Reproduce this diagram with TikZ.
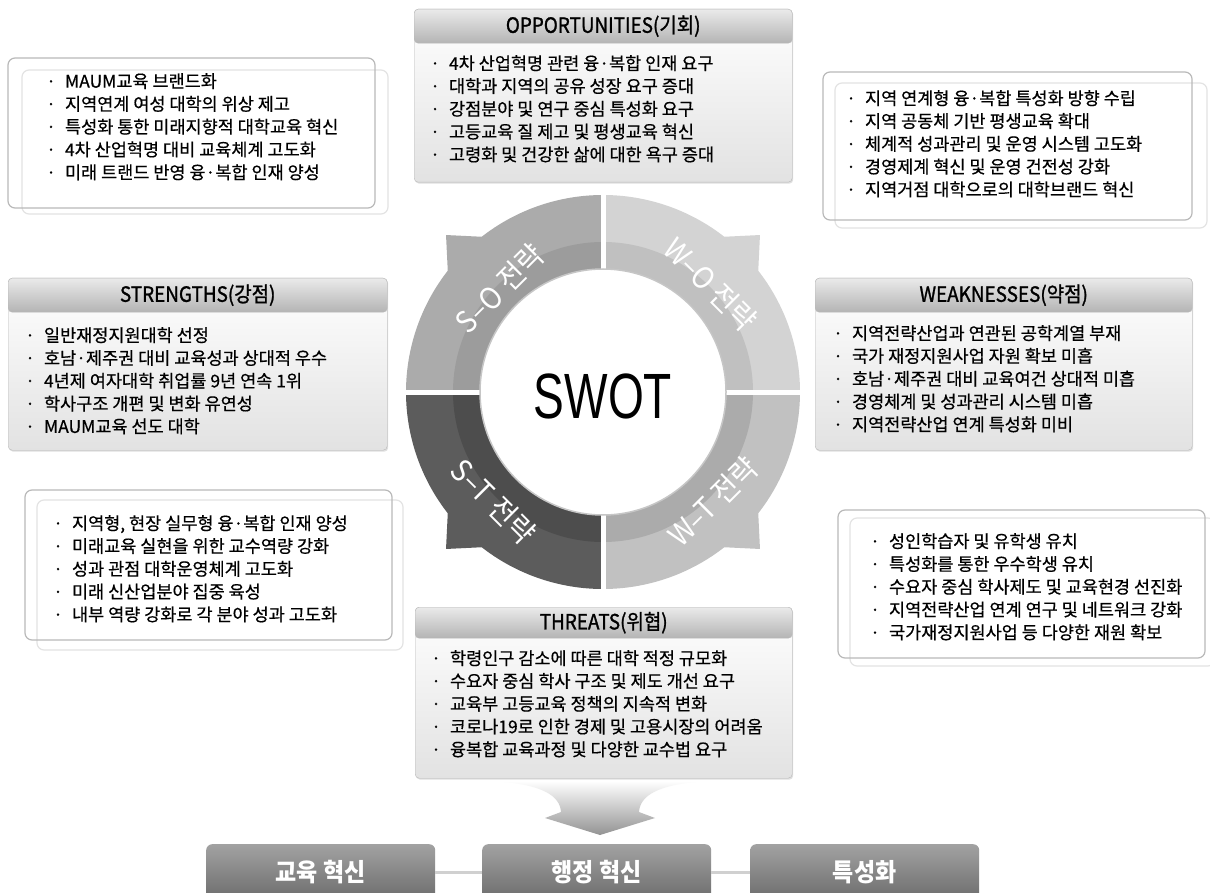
\documentclass[tikz,border=0pt]{standalone}
\usepackage{fontspec}
\setmainfont{Noto Sans CJK KR}[FakeBold=0.5]
\newfontfamily\headfont{Noto Sans CJK KR}[FakeStretch=0.9, FakeBold=1.2]
\newfontfamily\resfont{Noto Sans CJK KR}[FakeStretch=0.92]
\newfontfamily\swotfont{Liberation Sans}[FakeStretch=0.72]
\usetikzlibrary{positioning,calc,shadows}

\definecolor{boxline}{HTML}{B9B9B9}
\definecolor{ghostline}{HTML}{E3E3E3}
\definecolor{headtop}{HTML}{EAEAEA}
\definecolor{headbot}{HTML}{B4B4B4}
\definecolor{bodybot}{HTML}{E2E2E2}
\definecolor{soOuter}{HTML}{ABABAB}
\definecolor{soInner}{HTML}{9C9C9C}
\definecolor{woOuter}{HTML}{D3D3D3}
\definecolor{woInner}{HTML}{C0C0C0}
\definecolor{stOuter}{HTML}{5C5C5C}
\definecolor{stInner}{HTML}{4D4D4D}
\definecolor{wtOuter}{HTML}{C1C1C1}
\definecolor{wtInner}{HTML}{ABABAB}
\definecolor{restop}{HTML}{A2A2A2}
\definecolor{resbot}{HTML}{6C6C6C}
\definecolor{linkgray}{HTML}{D0D0D0}

\newcommand{\bul}{·\hspace{9pt}}

\tikzset{
  panel/.style={draw=boxline, rounded corners=4pt, inner sep=0pt, anchor=north west,
    top color=white, bottom color=bodybot,
    drop shadow={shadow xshift=1pt, shadow yshift=-1.5pt, opacity=0.25}},
  panelhead/.style={draw=boxline, rounded corners=4pt, inner sep=0pt, anchor=north,
    top color=headtop, bottom color=headbot, font=\headfont\fontsize{21}{24}\selectfont},
  itemlist/.style={anchor=north west, inner sep=0pt, align=left,
    font=\fontsize{17.5}{22.8}\selectfont},
  mainframe/.style={draw=boxline, line width=1.2pt, rounded corners=7pt},
  ghostframe/.style={draw=ghostline, line width=1.2pt, rounded corners=7pt},
  stratlabel/.style={text=white, inner sep=0pt, font=\resfont\fontsize{30}{32}\selectfont},
  resultbox/.style={anchor=north west, inner sep=0pt, rounded corners=6pt,
    top color=restop, bottom color=resbot, minimum width=229pt, minimum height=56pt,
    text=white, font=\resfont\bfseries\fontsize{25}{28}\selectfont},
  link/.style={draw=linkgray, line width=3pt}
}

% one quarter of the ring: start angle, outer colour, band colour
\newcommand{\ringquarter}[3]{%
  \fill[#2] ($(c)+(#1:123pt)$) -- ($(c)+(#1:197pt)$)
    arc[start angle=#1, end angle=#1+38, radius=197pt]
    -- ($(c)+(#1+45:222pt)$) -- ($(c)+(#1+52:197pt)$)
    arc[start angle=#1+52, end angle=#1+90, radius=197pt]
    -- ($(c)+(#1+90:123pt)$)
    arc[start angle=#1+90, end angle=#1, radius=123pt] -- cycle;
  \fill[#3] ($(c)+(#1:123pt)$) -- ($(c)+(#1:150pt)$)
    arc[start angle=#1, end angle=#1+90, radius=150pt]
    -- ($(c)+(#1+90:123pt)$)
    arc[start angle=#1+90, end angle=#1, radius=123pt] -- cycle;
}

\begin{document}
\begin{tikzpicture}[x=1pt,y=-1pt]
  \useasboundingbox (0,0) rectangle (1210,893);
  \clip (0,0) rectangle (1210,893);
  \fill[white] (0,0) rectangle (1210,893);

  % SWOT wheel
  \coordinate (c) at (603,392);
  \ringquarter{90}{soOuter}{soInner}
  \ringquarter{0}{woOuter}{woInner}
  \ringquarter{180}{stOuter}{stInner}
  \ringquarter{270}{wtOuter}{wtInner}
  \draw[white, line width=5pt] ($(c)+(-230pt,0pt)$) -- ($(c)+(230pt,0pt)$);
  \draw[white, line width=5pt] ($(c)+(0pt,-230pt)$) -- ($(c)+(0pt,230pt)$);
  \fill[white, draw=gray!45, line width=1.5pt] (c) circle[radius=123pt];
  \node[font=\swotfont\fontsize{64}{66}\selectfont] (swot) at (603,396) {SWOT};
  \node[stratlabel, rotate=45] (so) at ($(c)+(135:146pt)$) {S–O\hspace{7pt}전략};
  \node[stratlabel, rotate=-45] (wo) at ($(c)+(45:152pt)$) {W–O\hspace{7pt}전략};
  \node[stratlabel, rotate=-45] (st) at ($(c)+(225:155pt)$) {S–T\hspace{7pt}전략};
  \node[stratlabel, rotate=45] (wt) at ($(c)+(315:155pt)$) {W–T\hspace{7pt}전략};

  % opportunities
  \node[panel, minimum width=378pt, minimum height=173pt] (oppBox) at (414,9) {};
  \node[panelhead, minimum width=378pt, minimum height=34pt] (oppHead) at (oppBox.north) {OPPORTUNITIES(기회)};
  \node[itemlist] (oppList) at (430,55) {\bul 4차 산업혁명 관련 융·복합 인재 요구\\
    \bul 대학과 지역의 공유 성장 요구 증대\\
    \bul 강점분야 및 연구 중심 특성화 요구\\
    \bul 고등교육 질 제고 및 평생교육 혁신\\
    \bul 고령화 및 건강한 삶에 대한 욕구 증대};

  % strengths
  \node[panel, minimum width=379pt, minimum height=172pt] (strBox) at (8,278) {};
  \node[panelhead, minimum width=379pt, minimum height=34pt] (strHead) at (strBox.north) {STRENGTHS(강점)};
  \node[itemlist] (strList) at (25,327) {\bul 일반재정지원대학 선정\\
    \bul 호남·제주권 대비 교육성과 상대적 우수\\
    \bul 4년제 여자대학 취업률 9년 연속 1위\\
    \bul 학사구조 개편 및 변화 유연성\\
    \bul MAUM교육 선도 대학};

  % weaknesses
  \node[panel, minimum width=377pt, minimum height=172pt] (weakBox) at (815,278) {};
  \node[panelhead, minimum width=377pt, minimum height=34pt] (weakHead) at (weakBox.north) {WEAKNESSES(약점)};
  \node[itemlist] (weakList) at (833,325) {\bul 지역전략산업과 연관된 공학계열 부재\\
    \bul 국가 재정지원사업 자원 확보 미흡\\
    \bul 호남·제주권 대비 교육여건 상대적 미흡\\
    \bul 경영체계 및 성과관리 시스템 미흡\\
    \bul 지역전략산업 연계 특성화 미비};

  % threats
  \node[panel, minimum width=377pt, minimum height=171pt] (thrBox) at (415,607) {};
  \node[panelhead, minimum width=377pt, minimum height=31pt] (thrHead) at (thrBox.north) {THREATS(위협)};
  \node[itemlist] (thrList) at (431,650) {\bul 학령인구 감소에 따른 대학 적정 규모화\\
    \bul 수요자 중심 학사 구조 및 제도 개선 요구\\
    \bul 교육부 고등교육 정책의 지속적 변화\\
    \bul 코로나19로 인한 경제 및 고용시장의 어려움\\
    \bul 융복합 교육과정 및 다양한 교수법 요구};

  % strategy boxes
  \draw[ghostframe] (22,70) rectangle (388,214);
  \draw[mainframe] (8,58) rectangle (375,208);
  \node[itemlist] (soList) at (46,73) {\bul MAUM교육 브랜드화\\
    \bul 지역연계 여성 대학의 위상 제고\\
    \bul 특성화 통한 미래지향적 대학교육 혁신\\
    \bul 4차 산업혁명 대비 교육체계 고도화\\
    \bul 미래 트랜드 반영 융·복합 인재 양성};

  \draw[ghostframe] (835,83) rectangle (1207,228);
  \draw[mainframe] (823,72) rectangle (1192,220);
  \node[itemlist] (woList) at (846,90) {\bul 지역 연계형 융·복합 특성화 방향 수립\\
    \bul 지역 공동체 기반 평생교육 확대\\
    \bul 체계적 성과관리 및 운영 시스템 고도화\\
    \bul 경영제계 혁신 및 운영 건전성 강화\\
    \bul 지역거점 대학으로의 대학브랜드 혁신};

  \draw[ghostframe] (37,500) rectangle (403,650);
  \draw[mainframe] (25,490) rectangle (392,640);
  \node[itemlist] (stList) at (53,515) {\bul 지역형, 현장 실무형 융·복합 인재 양성\\
    \bul 미래교육 실현을 위한 교수역량 강화\\
    \bul 성과 관점 대학운영체계 고도화\\
    \bul 미래 신산업분야 집중 육성\\
    \bul 내부 역량 강화로 각 분야 성과 고도화};

  \draw[ghostframe] (850,518) rectangle (1215,666);
  \draw[mainframe] (838,510) rectangle (1205,658);
  \node[itemlist] (wtList) at (870,533) {\bul 성인학습자 및 유학생 유치\\
    \bul 특성화를 통한 우수학생 유치\\
    \bul 수요자 중심 학사제도 및 교육현경 선진화\\
    \bul 지역전략산업 연계 연구 및 네트워크 강화\\
    \bul 국가재정지원사업 등 다양한 재원 확보};

  % funnel arrow
  \shade[top color=white, bottom color=gray!85] (492,781)
    .. controls (543,784) and (560,796) .. (561,812)
    -- (545,818) -- (600,835) -- (655,818) -- (639,812)
    .. controls (640,796) and (657,784) .. (708,781) -- cycle;

  % results
  \node[resultbox] (edu) at (206,844) {교육 혁신};
  \node[resultbox] (admin) at (482,844) {행정 혁신};
  \node[resultbox] (spec) at (750,844) {특성화};
  \draw[link] (edu) -- (admin);
  \draw[link] (admin) -- (spec);
\end{tikzpicture}
\end{document}
